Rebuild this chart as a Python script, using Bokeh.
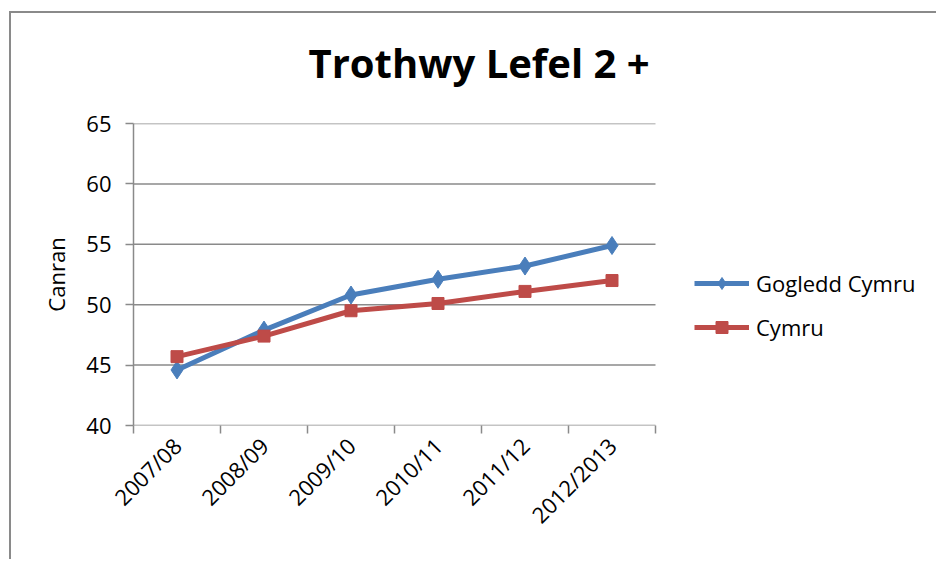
import math
from bokeh.plotting import figure
from bokeh.models import Range1d, FixedTicker, Legend, LegendItem, Label
from bokeh.embed import file_html
from bokeh.resources import INLINE

categories = ["2007/08", "2008/09", "2009/10", "2010/11", "2011/12", "2012/2013"]
gogledd_cymru = [44.6, 47.9, 50.8, 52.1, 53.2, 54.9]
cymru = [45.7, 47.4, 49.5, 50.1, 51.1, 52.0]
y_ticks = [40, 45, 50, 55, 60, 65]
series_names = ["Gogledd Cymru", "Cymru"]
title_text = "Trothwy Lefel 2 +"
y_label = "Canran"

BLUE = "#4A7EBB"
RED = "#BE4B48"
GRAY = "#8a8a8a"
FONT = "Open Sans"

W, H = 927, 548
LEFT, TOP, BOTTOM = 122, 110, 136
PLOT_W = 522                     # width of the category area in px
FRAME_W = W - LEFT               # frame reaches the right edge (room for legend)

n = len(categories)
x_pos = [i + 0.5 for i in range(n)]
x_end = n * FRAME_W / PLOT_W

p = figure(width=W, height=H, output_backend="svg", toolbar_location=None,
           x_range=Range1d(0, x_end), y_range=Range1d(y_ticks[0], y_ticks[-1]),
           min_border_left=LEFT, min_border_right=0, min_border_top=TOP,
           min_border_bottom=BOTTOM)
p.styles = {"margin-left": "9px", "margin-top": "11px",
            "border-left": "2px solid #8a8a8a", "border-top": "2px solid #8a8a8a"}
p.background_fill_color = "white"
p.border_fill_color = "white"
p.outline_line_color = None
p.title.visible = False

# chart title, placed in canvas coordinates inside the top border area
title = Label(x=295, y=47, x_units="canvas", y_units="canvas", text=title_text,
              text_font=FONT, text_font_size="40px", text_font_style="bold",
              text_color="black", text_align="left", text_baseline="alphabetic")
p.add_layout(title, "above")

# horizontal gridlines limited to the category area
p.xgrid.visible = False
p.ygrid.visible = False
p.segment(x0=[0] * len(y_ticks), x1=[n] * len(y_ticks), y0=y_ticks, y1=y_ticks,
          line_color=GRAY, line_width=1.5)

# y axis
ya = p.yaxis[0]
ya.ticker = FixedTicker(ticks=y_ticks)
ya.axis_line_color = GRAY
ya.axis_line_width = 1.5
ya.major_tick_line_color = GRAY
ya.major_tick_line_width = 1.5
ya.major_tick_out = 8
ya.major_tick_in = 0
ya.minor_tick_line_color = None
ya.major_label_text_font = FONT
ya.major_label_text_font_size = "22px"
ya.major_label_text_color = "black"
ya.major_label_standoff = 14
ya.axis_label = y_label
ya.axis_label_text_font = FONT
ya.axis_label_text_font_size = "22px"
ya.axis_label_text_font_style = "normal"
ya.axis_label_text_color = "black"
ya.axis_label_standoff = 12

# x axis: labels at category centres, ticks at category boundaries
xa = p.xaxis[0]
xa.ticker = FixedTicker(ticks=x_pos, minor_ticks=list(range(n + 1)))
xa.major_label_overrides = {x: c for x, c in zip(x_pos, categories)}
xa.axis_line_color = None
xa.major_tick_line_color = None
xa.major_tick_out = 8
xa.major_tick_in = 0
xa.minor_tick_line_color = GRAY
xa.minor_tick_line_width = 1.5
xa.minor_tick_out = 8
xa.minor_tick_in = 0
xa.major_label_orientation = math.pi / 4
xa.major_label_text_font = FONT
xa.major_label_text_font_size = "22px"
xa.major_label_text_color = "black"
xa.major_label_standoff = 8

# series
l1 = p.line(x_pos, gogledd_cymru, line_color=BLUE, line_width=5)
m1 = p.scatter(x_pos, gogledd_cymru, marker="diamond", size=18,
               fill_color=BLUE, line_color=BLUE)
l2 = p.line(x_pos, cymru, line_color=RED, line_width=5)
m2 = p.scatter(x_pos, cymru, marker="square", size=12,
               fill_color=RED, line_color=RED)

legend = Legend(items=[LegendItem(label=series_names[0], renderers=[l1, m1]),
                       LegendItem(label=series_names[1], renderers=[l2, m2])],
                location=(561, 83))
legend.label_text_font = FONT
legend.label_text_font_size = "22px"
legend.label_text_color = "black"
legend.glyph_width = 55
legend.glyph_height = 30
legend.label_height = 30
legend.label_standoff = 7
legend.spacing = 14
legend.padding = 0
legend.margin = 0
legend.border_line_color = None
legend.background_fill_alpha = 0
p.add_layout(legend)

open("out.html", "w").write(file_html(p, INLINE))
